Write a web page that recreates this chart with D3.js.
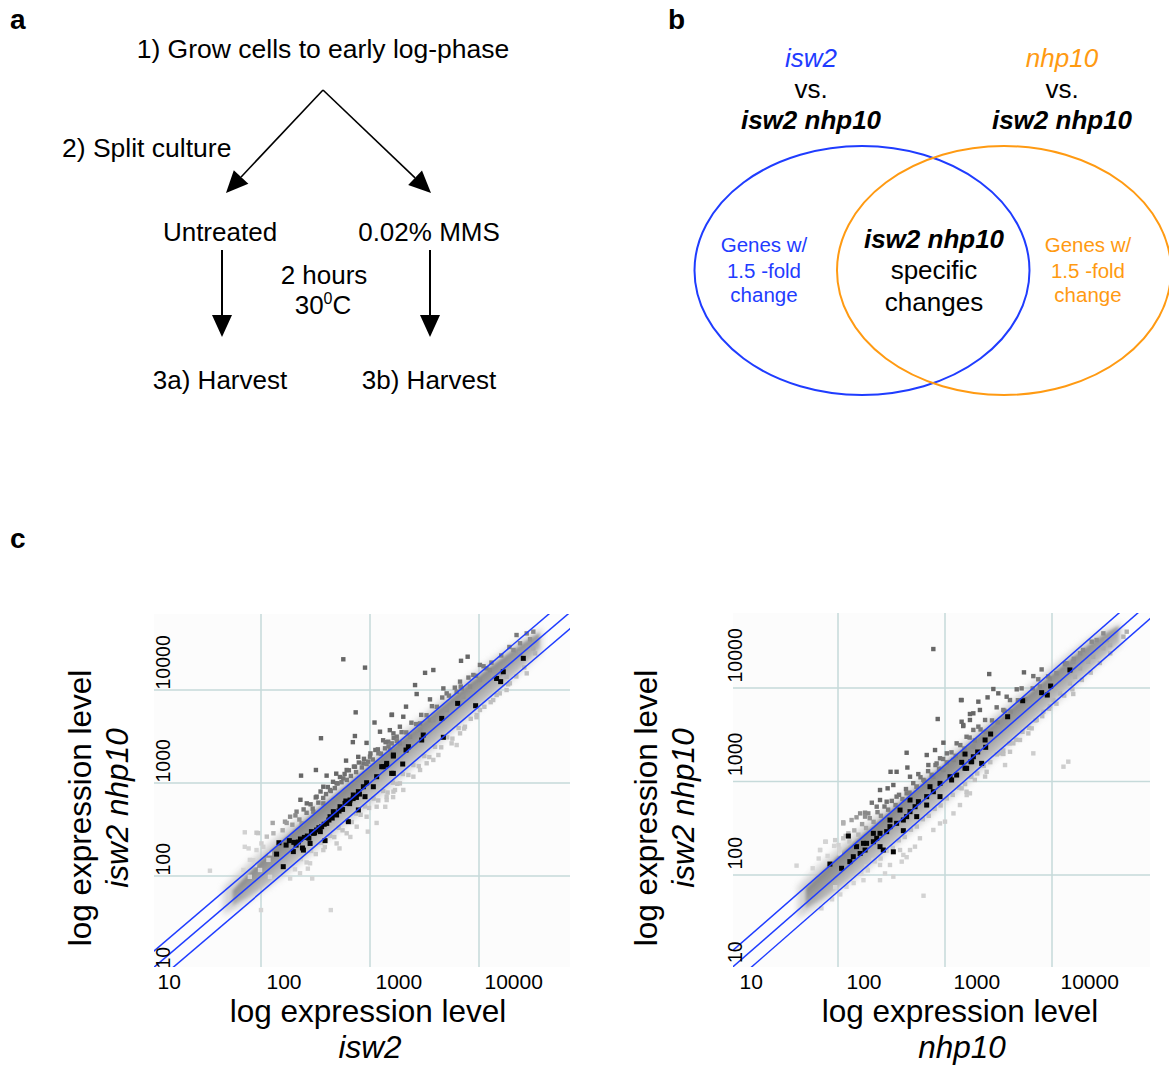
<!DOCTYPE html>
<html>
<head>
<meta charset="utf-8">
<script src="https://cdn.jsdelivr.net/npm/d3@7"></script>
<style>
  body { margin: 0; background: #fff; }
</style>
</head>
<body>
<svg id="fig" width="1169" height="1066"></svg>
<script>
// ---- panel c data (expression values) ----
const tickValues = [10, 100, 1000, 10000]
const foldRatios = [1.5, 1, 1 / 1.5]

// left plot: x = isw2, y = isw2 nhp10
const leftHaloX  = [45, 70, 110, 200, 400, 800, 1600, 3200, 6400, 12800, 25000, 38000]
const leftHaloLo = [38, 50, 72, 120, 235, 460, 930, 1900, 3900, 8000, 16000, 26000]
const leftHaloHi = [75, 125, 205, 380, 740, 1450, 2850, 5600, 11000, 21000, 36000, 46000]
const leftBandX  = [55, 80, 120, 200, 350, 600, 1000, 2000, 4000, 8000, 15000, 25000, 36000]
const leftBandLo = [48, 62, 86, 138, 238, 405, 680, 1360, 2750, 5600, 10600, 18200, 28500]
const leftBandHi = [70, 112, 182, 310, 545, 930, 1540, 3000, 5900, 11500, 20500, 31500, 41000]

const leftGray = [
  [569,21400],[900,17400],[739,5750],[1590,5430],[1100,4470],[355,3030],[727,3200],[696,2750],[930,2700],
  [603,1740],[319,1380],[233,1200],[400,1200],[490,1260],[780,1910],[960,1700],[1120,2265],[1320,2880],
  [1520,3700],[230,660],[128,372],
  [7870,22800],[6840,20600],[3810,16400],[3200,15300],[2590,11300],[2680,9050],[3550,7930],[2140,6620],
  [1580,5390],[4710,10400],[5050,9200],[6700,12300],[6940,10400],[10200,18600],[11700,17100],[22100,39000],
  [23800,31800],[27400,40600],[29400,35100],[31500,42400],[13500,13900],[3550,4750],[2880,4370],[6240,9590],
  [8870,14500],[2020,5160],[1880,4030],[1640,3420],[1470,2780],[1235,3560],[15600,15100],[17900,13900],
  [10200,12800],[12600,16400],[20700,26900],[23800,24800],[8260,10900],[7180,8470],[5050,6100],[3810,4750],
  [2880,3720],[2330,3150],[1880,2670],[1530,2260],
  [373,912],[430,841],[494,991],[569,1122],[324,713],[263,604],[212,492],[185,434],[166,384],[302,492],
  [236,368],[373,604],[611,1380],[728,1497],[869,1626],[1000,1919],[1194,2084],[1374,2360],[1582,2669],
  [1758,3148],[130,288],[113,265],[101,224],[91,190],[79,149],[69,116],[117,149],[98,116],[79,98],[121,98],
  [185,94],[228,107],[282,137],[373,190],[494,224],[611,288],[755,339],[931,434],[1151,556],[1422,656],[1695,841],
  [32700,24800],[27400,15100],[31500,28000],[17900,10000],[19200,11800],[13500,7800],[14500,8830],[10200,6100],
  [9520,5390],[7430,4030],[6700,3420],[6240,2560],[5610,2670],[4240,2000],[3810,1770],[3310,1630],[2880,1380],
  [2500,1170],[1880,990],[1640,807],[1420,713],[2020,842],
  [295,94],[269,120],[525,198],[660,263],[955,300],[1150,372],[1380,555],[1630,705],
  [71,295],[94,289],[71,206],[85,148],[34,114],[100,43],[91,292],[77,198],[105,206],[121,175],[88,131],[437,43],
  [158,310],[172,372],[194,356],[207,448],[225,405],[246,520],[262,478],[285,590],[298,530],[318,700],
  [336,615],[352,810],[372,690],[395,760],[410,905],[436,820],[458,1030],[476,880],[505,990],[530,1160],
  [548,1020],[585,1250],[612,1080],[640,1370],[668,1190],[712,1500],[745,1310],[790,1660],[842,1470],
  [880,1820],[930,1600],[1010,2080],[1060,1790],[1180,2300],[1260,2070],[1390,2750],[1480,2480],[1650,3050],
  [1760,2840],[1950,3520],[2150,3500],[2400,4450],[2650,4300],[2950,5400],[3300,5350],[3700,6700],[4100,6600],
  [4600,8300],[5300,8700],[6000,10600],[6800,10900],[8000,13600],[9400,14200],[11000,18000],[13000,19700],
  [16000,23500],[19000,29000],
  [205,118],[232,152],[262,140],[288,186],[318,172],[356,228],[385,205],[430,270],[470,262],[515,330],
  [560,310],[620,395],[680,380],[745,470],[820,455],[900,560],[980,540],[1080,680],[1190,650],[1320,820],
  [1450,790],[1620,1010],[1780,980],[2000,1250],[2250,1220],[2500,1560],[2800,1520],[3150,1950],[3500,1900],
  [3950,2450],[4500,2420],[5100,3100],[5700,3000],[6500,3900],[7300,3850],[8400,4900],[9500,5100],
  [11200,6600],[12800,7400],[15500,9200],[18500,11500],[22000,14000],[26000,17500]
]

const leftBlack = [
  [146,228],[182,240],[220,232],[266,269],[324,312],[360,339],[401,368],[430,434],[461,492],[531,556],
  [590,604],[656,656],[703,743],[782,807],[869,912],[931,1007],[1073,912],[1151,1169],[1280,1497],[1422,1626],
  [1637,1949],[1637,1270],[387,240],[245,190],[198,183],[160,126],[139,172],[633,384],[302,288],[282,224],
  [494,453],[782,513],[900,713],[210,215],[230,250],[250,260],[275,255],[290,300],[310,290],[340,330],
  [350,300],[380,360],[420,400],[450,420],[470,470],[520,500],[560,520],[600,640],[650,600],[700,680],
  [750,700],[800,760],[240,200],[200,230],[170,215],
  [25500,21900],[15800,12300],[14500,13300],[16700,15700],[9310,6780],[6370,7180],[4550,4950],[4710,3100],
  [3080,3280],[2980,2900],[2250,2455],[2140,2260],[1640,2000],[1995,1600],[1420,1560],[1580,1270],[1325,1500]
]

// right plot: x = nhp10, y = isw2 nhp10
const rightHaloX  = [42, 65, 100, 200, 400, 800, 1600, 3200, 6400, 12800, 25000, 45000]
const rightHaloLo = [34, 46, 66, 120, 235, 460, 930, 1900, 3900, 8000, 16000, 30000]
const rightHaloHi = [75, 125, 195, 385, 745, 1460, 2870, 5600, 11000, 21000, 37000, 50000]
const rightBandX  = [50, 75, 110, 200, 350, 600, 1000, 2000, 4000, 8000, 15000, 25000, 42000]
const rightBandLo = [44, 58, 80, 138, 240, 410, 690, 1380, 2780, 5650, 10800, 18000, 31000]
const rightBandHi = [72, 115, 175, 315, 550, 935, 1550, 3000, 5900, 11300, 20500, 32000, 46000]

const rightGray = [
  [778,26100],[1410,7430],[855,4660],[1710,5270],[1430,4360],[1480,3920],[438,2030],[966,2600],[807,2170],
  [675,1920],[1040,2000],[310,1270],[353,1270],[445,1410],[471,1125],[563,1200],[699,1500],[835,1560],
  [898,1770],[247,811],[291,845],[329,917],[207,593],[247,634],[192,456],[112,366],[134,387],[161,456],
  [179,421],[76,227],[94,236],[68,185],[112,247],[104,170],[230,538],[285,608],[353,689],[438,747],[543,879],
  [628,1040],[778,1125],[966,1330],[1200,1700],[1480,2000],[1840,2350],[1285,2560],[1590,3010],[1840,3560],
  [380,185],[438,155],[471,185],[583,247],[524,201],[1000,372],[1200,456],[1380,560],[1595,716],[1710,747],
  [778,303],[898,356],[306,128],[275,104],[247,128],[214,145],[185,123],
  [2590,14100],[5470,14700],[6690,13400],[8000,15800],[7440,12400],[2830,9750],[3150,8770],[4680,9680],
  [5200,9910],[9570,12600],[13700,18400],[15800,19100],[18300,23500],[23500,31300],[26100,32600],[30200,38400],
  [2500,7940],[2050,7140],[2120,5820],[1840,5360],[1710,4550],[3040,6210],[3510,5820],[3770,8070],[4050,7430],
  [2050,3860],[2370,4550],[1430,7430],[1480,4020],
  [49900,40000],[46500,35400],[32400,32600],[34900,28800],[30200,26600],[24300,21600],[21800,19100],
  [18300,16200],[16400,13200],[15800,8630],[14700,11200],[11900,8770],[10300,7430],[9570,6410],[8300,5580],
  [7190,4550],[6460,3700],[6010,3270],[5020,2780],[4350,2560],[4050,2080],[3510,1970],[6690,2000],
  [14200,1630],[12800,1440],[3640,1500],[3270,2000],[2450,1270],[2370,1130],[1900,1040],[1590,778],[1430,845],
  [41,126],[68,185],[77,227],[112,356],[149,414],[179,464],[125,279],[101,209],[94,74],[173,88],[247,88],
  [329,96],[394,139],[408,164],[630,60],
  [58,118],[66,150],[80,160],[92,205],[103,190],[118,262],[128,228],[142,300],[155,270],[168,350],[183,318],
  [198,405],[215,370],[234,470],[252,430],[272,540],[294,500],[318,620],[345,560],[372,720],[400,650],
  [432,830],[466,760],[505,960],[545,880],[590,1110],[640,1020],[695,1290],[750,1180],[815,1500],[880,1370],
  [960,1740],[1040,1600],[1150,2050],[1260,1880],[1390,2450],[1520,2250],[1700,2950],[1900,2750],[2150,3600],
  [2400,3400],[2750,4500],[3100,4300],[3600,5700],[4100,5600],[4800,7400],[5600,7600],[6600,9900],
  [7700,10400],[9200,13300],[11000,14400],[13200,18000],[16000,20500],[19500,25500],
  [70,44],[88,55],[105,62],[120,75],[140,82],[165,104],[190,112],[220,140],[250,150],[285,182],[325,195],
  [370,235],[420,255],[480,305],[545,330],[620,395],[705,430],[800,510],[910,555],[1040,660],[1180,720],
  [1350,860],[1540,940],[1760,1120],[2000,1220],[2300,1470],[2650,1610],[3050,1950],[3500,2150],[4000,2550],
  [4600,2800],[5300,3400],[6100,3750],[7000,4500],[8100,5000],[9400,6000],[11000,6800],[13000,8300],
  [15500,9700],[19000,12200],[23000,14600],[28000,18500],[35000,23500]
]

const rightBlack = [
  [1432,1603],[1750,1629],[1538,1384],[1285,1173],[1153,1038],[1114,1125],[898,955],[724,880],[778,778],
  [898,689],[674,689],[564,609],[525,538],[471,476],[438,421],[408,387],[353,357],[306,329],[285,291],
  [247,279],[230,247],[214,227],[185,218],[179,185],[161,170],[139,157],[129,139],[108,118],[84,131],
  [125,261],[329,177],[265,185],[408,298],[674,560],[380,495],[544,421],[471,634],[306,387],[214,279],
  [247,201],[149,201],[173,218],
  [14700,15600],[9710,10500],[8000,8910],[9040,8410],[5320,7310],[3850,4930],[2670,3220],[2370,2780],
  [2400,2320],[2020,2070],[1840,1840],[1538,1966],[1775,1629],[1593,1384],[2200,1563]
]

const FONT = "'Liberation Sans', Arial, Helvetica, sans-serif"
const BLUE = '#1f3cff'
const ORANGE = '#ff9a12'

const svg = d3.select('#fig').attr('font-family', FONT)
svg.append('rect').attr('width', 1169).attr('height', 1066).attr('fill', '#fff')

function label(g, str, x, y, o = {}) {
  return g.append('text')
    .attr('x', x).attr('y', y)
    .attr('text-anchor', o.anchor || 'middle')
    .attr('font-size', o.size || 26)
    .attr('font-weight', o.bold ? 'bold' : null)
    .attr('font-style', o.italic ? 'italic' : null)
    .attr('fill', o.color || '#000')
    .text(str)
}

function arrow(g, x1, y1, x2, y2, w) {
  var len = Math.hypot(x2 - x1, y2 - y1), ux = (x2 - x1) / len, uy = (y2 - y1) / len
  var head = 22, half = 10
  var bx = x2 - ux * head, by = y2 - uy * head
  g.append('line').attr('x1', x1).attr('y1', y1).attr('x2', bx).attr('y2', by)
    .attr('stroke', '#000').attr('stroke-width', w)
  g.append('path')
    .attr('d', `M${x2},${y2}L${bx - uy * half},${by + ux * half}L${bx + uy * half},${by - ux * half}Z`)
    .attr('fill', '#000')
}

// ---- panel a: protocol ----
var pa = svg.append('g')
label(pa, 'a', 10, 29, {anchor: 'start', size: 28, bold: true})
label(pa, '1) Grow cells to early log-phase', 323, 58, {size: 26.5})
label(pa, '2) Split culture', 62, 157, {anchor: 'start', size: 26.5})
label(pa, 'Untreated', 220, 241)
label(pa, '0.02% MMS', 429, 241)
label(pa, '2 hours', 324, 284)
var temp = label(pa, '30', 323, 314)
temp.append('tspan').attr('font-size', 16).attr('dy', -10).text('0')
temp.append('tspan').attr('dy', 10).text('C')
label(pa, '3a) Harvest', 220, 389)
label(pa, '3b) Harvest', 429, 389)
arrow(pa, 323, 90, 226, 193, 1.6)
arrow(pa, 323, 90, 431, 193, 1.6)
arrow(pa, 222, 250, 222, 337, 2)
arrow(pa, 430, 250, 430, 337, 2)

// ---- panel b: venn ----
var pb = svg.append('g')
label(pb, 'b', 668, 29, {anchor: 'start', size: 28, bold: true})
label(pb, 'isw2', 811, 67, {italic: true, color: BLUE})
label(pb, 'vs.', 811, 98)
label(pb, 'isw2 nhp10', 811, 129, {italic: true, bold: true})
label(pb, 'nhp10', 1062, 67, {italic: true, color: ORANGE})
label(pb, 'vs.', 1062, 98)
label(pb, 'isw2 nhp10', 1062, 129, {italic: true, bold: true})
pb.append('ellipse').attr('cx', 862).attr('cy', 270.5).attr('rx', 167.5).attr('ry', 124.5)
  .attr('fill', 'none').attr('stroke', BLUE).attr('stroke-width', 2)
pb.append('ellipse').attr('cx', 1004).attr('cy', 270.5).attr('rx', 167).attr('ry', 124.5)
  .attr('fill', 'none').attr('stroke', ORANGE).attr('stroke-width', 2)
;[['Genes w/', 252], ['1.5 -fold', 278], ['change', 302]].forEach(function(t) {
  label(pb, t[0], 764, t[1], {size: 20.5, color: BLUE})
  label(pb, t[0], 1088, t[1], {size: 20.5, color: ORANGE})
})
label(pb, 'isw2 nhp10', 934, 248, {italic: true, bold: true})
label(pb, 'specific', 934, 279)
label(pb, 'changes', 934, 311)

// ---- panel c: scatter plots ----
label(svg, 'c', 10, 548, {anchor: 'start', size: 28, bold: true})

var shade = d3.scaleLinear()
  .domain([-0.4, -0.15, 0, 0.15, 0.4])
  .range(['#cdcdcd', '#b8b8b8', '#a0a0a0', '#858585', '#676767'])
  .clamp(true)
function grayFill(d) {
  var r = Math.log10(d[1] / d[0])
  var m = (Math.log10(d[0]) + Math.log10(d[1])) / 2
  var t = Math.max(0, Math.min(1, (2.6 - m) / 0.45))
  return d3.interpolateRgb(shade(r), '#d4d4d4')(t)
}

function scatter(p) {
  var x = d3.scaleLog().domain([10, 10000]).range(p.xr)
  var y = d3.scaleLog().domain([10, 10000]).range(p.yr)
  var [x0, y0, x1, y1] = p.box
  var g = svg.append('g')
  var defs = g.append('defs')
  defs.append('clipPath').attr('id', p.id + '-clip')
    .append('rect').attr('x', x0).attr('y', y0).attr('width', x1 - x0).attr('height', y1 - y0)

  // band gradient runs across the diagonal, dark on the upper-left side
  var dx = x(1000) - x(100), dy = y(1000) - y(100), len = Math.hypot(dx, dy)
  var nx = dy / len, ny = -dx / len
  var cx = x(300), cy = y(300)
  var grad = defs.append('linearGradient').attr('id', p.id + '-band')
    .attr('gradientUnits', 'userSpaceOnUse')
    .attr('x1', cx + 15 * nx).attr('y1', cy + 15 * ny)
    .attr('x2', cx - 15 * nx).attr('y2', cy - 15 * ny)
  ;[[0, '#808080'], [0.4, '#999999'], [0.62, '#afafaf'], [1, '#d0d0d0']].forEach(function(s) {
    grad.append('stop').attr('offset', s[0]).attr('stop-color', s[1])
  })
  defs.append('filter').attr('id', p.id + '-blur')
    .append('feGaussianBlur').attr('stdDeviation', 1.5)
  defs.append('filter').attr('id', p.id + '-halo')
    .append('feGaussianBlur').attr('stdDeviation', 3)

  var plot = g.append('g').attr('clip-path', `url(#${p.id}-clip)`)
  plot.append('rect').attr('x', x0).attr('y', y0).attr('width', x1 - x0).attr('height', y1 - y0)
    .attr('fill', '#fcfcfc')

  // grid
  plot.selectAll('line.vg').data(tickValues.slice(1)).join('line')
    .attr('x1', d => x(d)).attr('x2', d => x(d)).attr('y1', y0).attr('y2', y1)
    .attr('stroke', '#c6dada').attr('stroke-width', 1.5)
  plot.selectAll('line.hg').data(tickValues.slice(1)).join('line')
    .attr('y1', d => y(d)).attr('y2', d => y(d)).attr('x1', x0).attr('x2', x1)
    .attr('stroke', '#c6dada').attr('stroke-width', 1.5)

  // dense core of the cloud
  var area = d3.area()
    .x(d => x(d[0])).y0(d => y(d[1])).y1(d => y(d[2]))
    .curve(d3.curveCatmullRom)
  plot.append('path').datum(d3.zip(p.haloX, p.haloLo, p.haloHi))
    .attr('d', area).attr('fill', '#c4c4c4').attr('opacity', 0.75).attr('filter', `url(#${p.id}-halo)`)
  plot.append('path').datum(d3.zip(p.bandX, p.bandLo, p.bandHi))
    .attr('d', area).attr('fill', `url(#${p.id}-band)`).attr('filter', `url(#${p.id}-blur)`)

  plot.selectAll(null).data(p.gray).join('rect')
    .attr('x', d => x(d[0]) - 2.2).attr('y', d => y(d[1]) - 2.2)
    .attr('width', 4.4).attr('height', 4.4)
    .attr('fill', grayFill)
  plot.selectAll(null).data(p.black).join('rect')
    .attr('x', d => x(d[0]) - 2.5).attr('y', d => y(d[1]) - 2.5)
    .attr('width', 5).attr('height', 5)
    .attr('fill', '#050505')

  // 1.5-fold lines
  plot.selectAll(null).data(foldRatios).join('line')
    .attr('x1', x(5)).attr('y1', f => y(5 * f))
    .attr('x2', x(200000)).attr('y2', f => y(200000 * f))
    .attr('stroke', BLUE).attr('stroke-width', 1.5)

  // axes
  g.append('g').attr('transform', `translate(0,${p.xLabelY})`)
    .call(d3.axisBottom(x).tickValues(tickValues).tickFormat(d3.format('d')).tickSize(0).tickPadding(0))
    .attr('font-size', 21).attr('font-family', FONT)
    .call(a => a.select('.domain').remove())
    .call(a => a.selectAll('text').attr('text-anchor', 'start').attr('dx', p.xdx).attr('dy', 0).attr('fill', '#000'))
  g.append('g').attr('transform', `translate(${p.yLabelX},0)`)
    .call(d3.axisLeft(y).tickValues(tickValues).tickFormat(d3.format('d')).tickSize(0).tickPadding(0))
    .attr('font-size', 19.5).attr('font-family', FONT)
    .call(a => a.select('.domain').remove())
    .call(a => a.selectAll('text').attr('x', 0).attr('dy', 0).attr('text-anchor', 'start')
      .attr('transform', `translate(0,${p.ydy}) rotate(-90)`).attr('fill', '#000'))

  // titles
  label(g, 'log expression level', 0, 0, {size: 31.5})
    .attr('transform', `translate(${p.yTitleX[0]},808) rotate(-90)`)
  label(g, 'isw2 nhp10', 0, 0, {size: 31.5, italic: true})
    .attr('transform', `translate(${p.yTitleX[1]},808) rotate(-90)`)
  label(g, 'log expression level', p.xTitleX, 1022, {size: 31.5})
  label(g, p.xName, p.xTitleX + 2, 1058, {size: 31.5, italic: true})
}

scatter({
  id: 'left', xr: [152, 479], yr: [969, 690], box: [154, 614, 570, 967],
  haloX: leftHaloX, haloLo: leftHaloLo, haloHi: leftHaloHi,
  bandX: leftBandX, bandLo: leftBandLo, bandHi: leftBandHi,
  gray: leftGray, black: leftBlack,
  xLabelY: 989, xdx: 5, yLabelX: 170, ydy: -1,
  yTitleX: [91, 128], xTitleX: 368, xName: 'isw2'
})
scatter({
  id: 'right', xr: [731, 1052], yr: [968.5, 688], box: [733, 613, 1150, 967],
  haloX: rightHaloX, haloLo: rightHaloLo, haloHi: rightHaloHi,
  bandX: rightBandX, bandLo: rightBandLo, bandHi: rightBandHi,
  gray: rightGray, black: rightBlack,
  xLabelY: 989, xdx: 8, yLabelX: 742, ydy: -6,
  yTitleX: [657, 694], xTitleX: 960, xName: 'nhp10'
})
</script>
</body>
</html>
